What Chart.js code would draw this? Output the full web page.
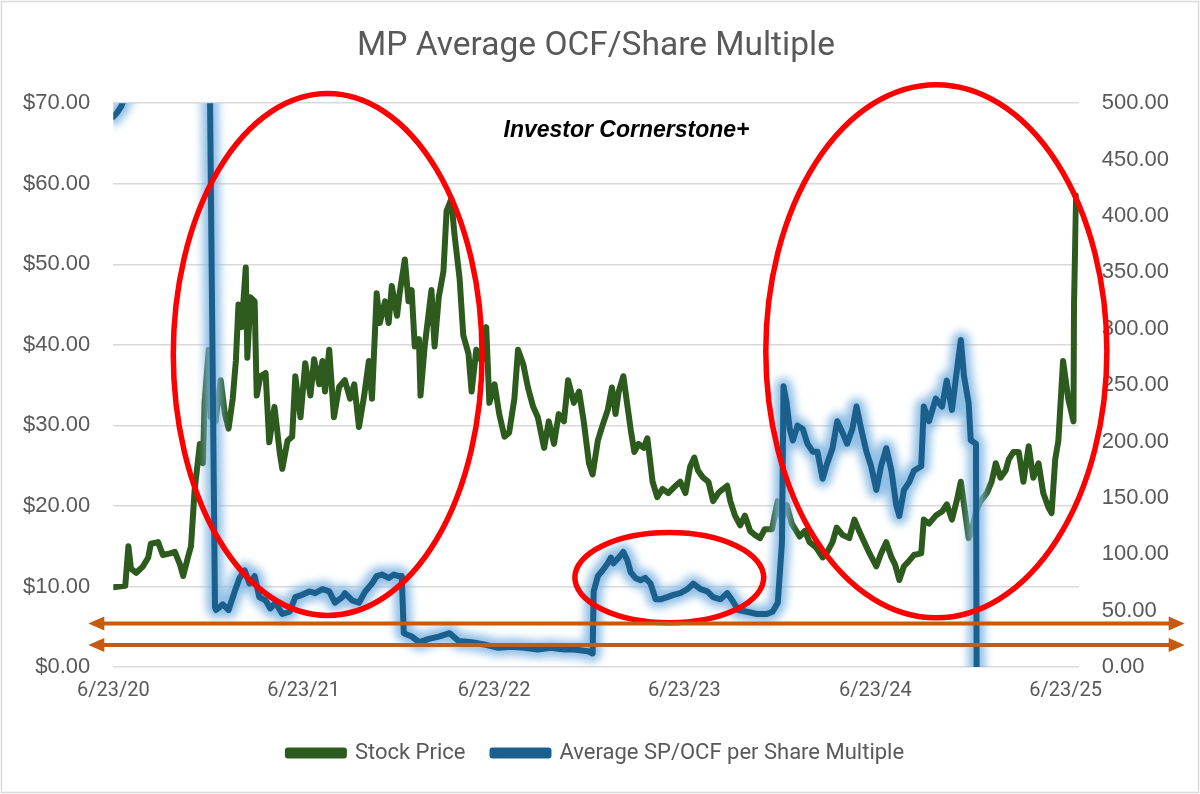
<!DOCTYPE html>
<html lang="en">
<head>
    <meta charset="UTF-8">
    <title>MP Average OCF/Share Multiple</title>
    <script src="https://cdn.jsdelivr.net/npm/chart.js"></script>
    <style>
        html, body {
            margin: 0;
            padding: 0;
            background: #ffffff;
        }
        #wrap {
            width: 1200px;
            height: 794px;
        }
    </style>
</head>
<body>

<div id="wrap"><canvas id="ocfChart" width="1200" height="794"></canvas></div>

<script>
    // x values are days counted from 6/23/20
    const xTickDays = [0, 365, 730, 1095, 1461, 1826];
    const xTickLabels = ['6/23/20', '6/23/21', '6/23/22', '6/23/23', '6/23/24', '6/23/25'];

    const priceDays = [0, 23, 29, 34, 44, 57, 67, 72, 86, 95, 109, 118, 128, 134, 143, 149, 156, 166, 172, 175,
        183, 187, 196, 206, 214, 221, 229, 235, 240, 246, 254, 257, 263, 271, 275, 282, 292, 299, 309, 319,
        324, 334, 343, 349, 359, 368, 378, 385, 395, 401, 406, 414, 423, 433, 444, 454, 462, 471, 481, 490,
        496, 505, 511, 521, 528, 534, 544, 549, 559, 566, 572, 578, 586, 589, 597, 605, 610, 616, 624, 633,
        639, 648, 654, 664, 671, 681, 687, 696, 706, 715, 721, 731, 740, 750, 759, 769, 776, 786, 795, 805,
        814, 826, 835, 845, 854, 864, 872, 883, 893, 902, 912, 919, 929, 938, 948, 956, 963, 969, 978, 986,
        992, 999, 1007, 1017, 1024, 1034, 1043, 1053, 1064, 1078, 1087, 1097, 1106, 1114, 1121, 1131, 1141, 1150, 1160, 1169,
        1177, 1183, 1192, 1202, 1211, 1221, 1230, 1240, 1249, 1263, 1268, 1274, 1282, 1291, 1301, 1316, 1326, 1335, 1348, 1360,
        1369, 1379, 1387, 1398, 1411, 1421, 1430, 1440, 1450, 1463, 1472, 1482, 1492, 1499, 1507, 1516, 1526, 1535, 1549, 1554,
        1564, 1577, 1589, 1598, 1608, 1617, 1625, 1631, 1640, 1646, 1654, 1663, 1675, 1684, 1692, 1701, 1711, 1717, 1726, 1736,
        1745, 1755, 1764, 1774, 1783, 1793, 1799, 1806, 1812, 1821, 1831, 1841, 1842, 1846];
    const priceValues = [9.9, 10.1, 15.0, 12.2, 11.7, 12.5, 13.6, 15.3, 15.5, 13.9, 14.1, 14.3, 12.7, 11.3, 13.6, 15.0, 22.0, 27.7, 25.3, 32.8,
        39.4, 31.0, 30.5, 35.6, 31.4, 29.6, 33.3, 38.0, 45.0, 42.2, 49.6, 38.4, 45.9, 45.4, 33.7, 36.1, 36.5, 27.9, 32.3, 26.7,
        24.6, 28.1, 28.6, 36.1, 31.0, 37.7, 33.7, 38.2, 35.1, 38.0, 34.2, 39.4, 31.0, 34.8, 35.6, 33.3, 35.1, 29.8, 33.7, 38.0,
        33.3, 46.4, 42.7, 45.4, 42.7, 47.3, 43.6, 46.4, 50.6, 45.4, 46.8, 39.8, 40.7, 33.7, 39.8, 44.1, 46.8, 39.8, 45.9, 49.1,
        56.6, 58.1, 53.8, 48.2, 41.2, 38.9, 34.2, 39.4, 38.0, 42.2, 32.8, 35.1, 31.4, 28.6, 29.1, 33.3, 39.4, 37.6, 34.7, 32.3,
        31.0, 27.2, 30.5, 27.7, 31.4, 30.5, 35.6, 32.8, 34.2, 30.5, 25.3, 23.9, 28.1, 30.0, 31.9, 34.7, 31.4, 34.2, 36.1, 32.3,
        29.5, 26.7, 27.7, 27.2, 28.4, 23.0, 21.1, 22.1, 21.6, 22.5, 23.0, 21.6, 24.9, 26.0, 24.4, 23.5, 23.0, 20.6, 21.6, 22.1,
        22.5, 20.6, 18.8, 17.6, 18.8, 16.9, 16.4, 16.0, 17.1, 17.1, 18.8, 20.6, 18.3, 20.1, 17.8, 16.2, 16.9, 15.5, 14.8, 13.6,
        14.3, 15.5, 17.3, 16.4, 16.0, 18.3, 16.9, 15.5, 14.1, 12.5, 14.1, 15.5, 13.6, 12.7, 10.8, 12.5, 13.2, 13.9, 14.1, 18.3,
        17.8, 18.8, 19.3, 20.2, 18.3, 20.6, 23.0, 20.2, 16.0, 16.9, 19.3, 20.6, 21.6, 23.0, 25.3, 23.5, 24.4, 25.8, 26.7, 26.7,
        23.0, 27.4, 23.5, 25.3, 21.6, 19.8, 19.1, 25.8, 28.1, 38.0, 33.3, 30.5, 45.0, 58.5];

    const multipleDays = [0, 8, 15, 23, 38, 76, 134, 183, 195, 197, 210, 221, 233, 242, 252, 261, 271, 280, 292, 301,
        311, 324, 338, 349, 362, 376, 387, 401, 414, 425, 439, 444, 458, 471, 483, 496, 505, 515, 528, 538,
        547, 553, 557, 572, 587, 605, 624, 645, 662, 687, 711, 738, 763, 788, 814, 839, 864, 883, 910, 919,
        921, 929, 938, 948, 954, 959, 969, 978, 986, 992, 1001, 1011, 1020, 1030, 1040, 1049, 1062, 1074, 1087, 1101,
        1112, 1126, 1139, 1150, 1164, 1177, 1187, 1198, 1215, 1234, 1253, 1264, 1274, 1282, 1285, 1291, 1297, 1303, 1312, 1322,
        1331, 1341, 1350, 1360, 1369, 1379, 1388, 1398, 1407, 1417, 1425, 1434, 1444, 1453, 1463, 1472, 1482, 1492, 1501, 1507,
        1516, 1526, 1535, 1549, 1554, 1564, 1577, 1589, 1598, 1608, 1616, 1625, 1631, 1640, 1644, 1654, 1656, 1700];
    const multipleValues = [488, 492, 497, 506, 540, 560, 580, 620, 53, 50.5, 55.5, 50.5, 67.2, 79, 85.6, 74, 80.6, 62, 59, 52,
        57, 47, 49, 62, 64, 67, 65.5, 69, 67, 57, 62, 65.5, 59, 57, 67, 74, 80.6, 82, 79, 82,
        80.6, 80.6, 30, 27, 22, 25, 27, 30, 23, 22, 20, 17, 18, 17, 15.5, 17, 15.5, 15.5, 14, 12,
        67, 80.6, 85.6, 92, 97, 92, 97, 102, 94, 84, 79, 77, 79, 74, 60, 60, 62, 64, 65.5, 69,
        74, 69, 67, 62, 60, 65.5, 59, 50.5, 49, 47, 47, 49, 57, 110, 249, 234, 211, 201, 214, 211,
        198, 191, 191, 167, 181, 194, 218, 208, 198, 211, 231, 211, 191, 178, 157, 178, 194, 174, 144, 134,
        157, 164, 174, 178, 231, 218, 238, 231, 254, 228, 258, 290, 258, 234, 201, 198, -120, -150];

    const greyText = '#595959';
    const labelFont = "Roboto, 'Noto Sans', sans-serif";
    const axisFont = "'Liberation Sans', Arial, sans-serif";

    // annotation overlays, placed in data units
    const ellipseNotes = [
        { day: 411, price: 38.8, rxDays: 296, ryPrice: 32.4 },
        { day: 1066, price: 11.1, rxDays: 181, ryPrice: 5.6 },
        { day: 1578, price: 39.2, rxDays: 327, ryPrice: 33.1 }
    ];
    const arrowLevels = [38.5, 19.5];

    function toPoints(days, values) {
        return days.map((d, i) => ({ x: d, y: values[i] }));
    }

    const overlay = {
        id: 'overlay',
        beforeDraw(chart) {
            const ctx = chart.ctx;
            ctx.save();
            ctx.fillStyle = '#ffffff';
            ctx.fillRect(0, 0, chart.width, chart.height);
            ctx.strokeStyle = '#d9d9d9';
            ctx.lineWidth = 1.5;
            ctx.strokeRect(1.5, 1.5, chart.width - 3, chart.height - 3);
            ctx.restore();
        },
        beforeDatasetDraw(chart, args) {
            // soft glow under the multiple line
            if (args.meta.yAxisID !== 'y1') return;
            const ctx = chart.ctx;
            const area = chart.chartArea;
            const pts = args.meta.data;
            ctx.save();
            ctx.beginPath();
            ctx.rect(area.left, area.top, area.right - area.left, area.bottom - area.top);
            ctx.clip();
            ctx.filter = 'blur(4px)';
            ctx.strokeStyle = 'rgba(125, 180, 226, 0.85)';
            ctx.lineWidth = 17;
            ctx.lineJoin = 'round';
            ctx.lineCap = 'round';
            ctx.beginPath();
            pts.forEach((p, i) => i ? ctx.lineTo(p.x, p.y) : ctx.moveTo(p.x, p.y));
            ctx.stroke();
            ctx.restore();
        },
        afterDraw(chart) {
            const ctx = chart.ctx;
            const xs = chart.scales.x, ys = chart.scales.y, y1 = chart.scales.y1;
            const area = chart.chartArea;
            ctx.save();

            // red ellipses
            ctx.strokeStyle = '#ff0000';
            ctx.lineWidth = 5.5;
            ellipseNotes.forEach(e => {
                const cx = xs.getPixelForValue(e.day);
                const cy = ys.getPixelForValue(e.price);
                const rx = xs.getPixelForValue(e.day + e.rxDays) - cx;
                const ry = cy - ys.getPixelForValue(e.price + e.ryPrice);
                ctx.beginPath();
                ctx.ellipse(cx, cy, rx, ry, 0, 0, Math.PI * 2);
                ctx.stroke();
            });

            // orange double arrows
            ctx.strokeStyle = '#c55a11';
            ctx.fillStyle = '#c55a11';
            ctx.lineWidth = 4;
            const left = area.left - 25, right = area.right + 106, head = 16, half = 7;
            arrowLevels.forEach(v => {
                const y = y1.getPixelForValue(v);
                ctx.beginPath();
                ctx.moveTo(left + head - 2, y);
                ctx.lineTo(right - head + 2, y);
                ctx.stroke();
                ctx.beginPath();
                ctx.moveTo(left, y);
                ctx.lineTo(left + head, y - half);
                ctx.lineTo(left + head, y + half);
                ctx.closePath();
                ctx.fill();
                ctx.beginPath();
                ctx.moveTo(right, y);
                ctx.lineTo(right - head, y - half);
                ctx.lineTo(right - head, y + half);
                ctx.closePath();
                ctx.fill();
            });

            // label
            ctx.fillStyle = '#000000';
            ctx.font = "italic bold 23px 'Liberation Sans', Arial, sans-serif";
            ctx.textAlign = 'center';
            ctx.textBaseline = 'middle';
            ctx.fillText('Investor Cornerstone+', xs.getPixelForValue(984), ys.getPixelForValue(66.6));
            ctx.restore();
        }
    };

    const ctx = document.getElementById('ocfChart').getContext('2d');
    const chart = new Chart(ctx, {
        type: 'line',
        data: {
            datasets: [
                {
                    label: 'Stock Price',
                    data: toPoints(priceDays, priceValues),
                    yAxisID: 'y',
                    borderColor: '#2d5a1d',
                    backgroundColor: '#2d5a1d',
                    borderWidth: 6,
                    borderJoinStyle: 'round',
                    borderCapStyle: 'round',
                    pointRadius: 0,
                    tension: 0,
                    fill: false,
                    order: 1
                },
                {
                    label: 'Average SP/OCF per Share Multiple',
                    data: toPoints(multipleDays, multipleValues),
                    yAxisID: 'y1',
                    borderColor: '#1b5f8d',
                    backgroundColor: '#1b5f8d',
                    borderWidth: 6,
                    borderJoinStyle: 'round',
                    borderCapStyle: 'round',
                    pointRadius: 0,
                    tension: 0,
                    fill: false,
                    order: 0
                }
            ]
        },
        options: {
            responsive: false,
            animation: false,
            layout: {
                padding: { left: 0, right: 8, top: 0, bottom: 20 }
            },
            scales: {
                x: {
                    type: 'linear',
                    min: 0,
                    max: 1851,
                    afterBuildTicks: axis => {
                        axis.ticks = xTickDays.map(v => ({ value: v }));
                    },
                    ticks: {
                        autoSkip: false,
                        maxRotation: 0,
                        padding: 12,
                        color: greyText,
                        font: { family: labelFont, size: 20 },
                        callback: (value) => xTickLabels[xTickDays.indexOf(value)]
                    },
                    grid: { display: false, drawTicks: false },
                    border: { display: false }
                },
                y: {
                    type: 'linear',
                    position: 'left',
                    min: 0,
                    max: 70,
                    ticks: {
                        stepSize: 10,
                        padding: 23,
                        color: greyText,
                        font: { family: axisFont, size: 22 },
                        callback: v => '$' + v.toFixed(2)
                    },
                    grid: { color: '#d9d9d9', lineWidth: 1.5, drawTicks: false },
                    border: { display: false }
                },
                y1: {
                    type: 'linear',
                    position: 'right',
                    min: 0,
                    max: 500,
                    ticks: {
                        stepSize: 50,
                        padding: 23,
                        color: greyText,
                        font: { family: axisFont, size: 22 },
                        callback: v => v.toFixed(2)
                    },
                    grid: { drawOnChartArea: false, drawTicks: false },
                    border: { display: false }
                }
            },
            plugins: {
                title: {
                    display: true,
                    text: 'MP Average OCF/Share Multiple',
                    color: greyText,
                    font: { family: labelFont, size: 33.5, weight: 'normal' },
                    padding: { top: 27, bottom: 36 }
                },
                legend: {
                    display: true,
                    position: 'bottom',
                    labels: {
                        color: greyText,
                        font: { family: labelFont, size: 22 },
                        boxWidth: 56,
                        boxHeight: 5,
                        padding: 27,
                        sort: (a, b) => a.datasetIndex - b.datasetIndex
                    }
                },
                tooltip: { enabled: false }
            }
        },
        plugins: [overlay]
    });
</script>

</body>
</html>
